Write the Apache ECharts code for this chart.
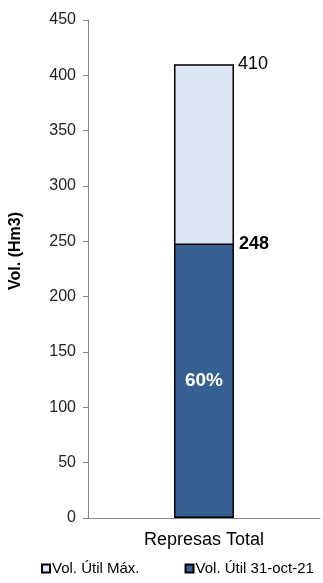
<!DOCTYPE html>
<html>
<head>
<meta charset="utf-8">
<script src="https://cdn.jsdelivr.net/npm/echarts@6/dist/echarts.min.js"></script>
<style>
html,body{margin:0;padding:0;background:#fff;}
#c{width:323px;height:583px;}
</style>
</head>
<body>
<div id="c"></div>
<script>
const categories = ['Represas Total'];
const seriesNames = ['Vol. Útil Máx.', 'Vol. Útil 31-oct-21'];
const volMax = [410];
const volActual = [248];
const pctLabels = ['60%'];
const yTicks = { min: 0, max: 450, interval: 50 };

const chart = echarts.init(document.getElementById('c'));
const font = 'Liberation Sans, Arial, sans-serif';
chart.setOption({
  animation: false,
  textStyle: { fontFamily: font },
  grid: { left: 88, right: 3, top: 20, bottom: 65, containLabel: false },
  legend: {
    data: seriesNames,
    bottom: 2,
    left: 36,
    itemWidth: 8,
    itemHeight: 8,
    itemGap: 45,
    icon: 'rect',
    textStyle: { fontSize: 15, color: '#000', fontFamily: font, padding: [0, 0, 0, -3] }
  },
  xAxis: {
    type: 'category',
    data: categories,
    axisLine: { lineStyle: { color: '#888', width: 1 } },
    axisTick: { show: false },
    axisLabel: { fontSize: 18, color: '#000', margin: 13, fontFamily: font }
  },
  yAxis: {
    type: 'value',
    min: yTicks.min, max: yTicks.max, interval: yTicks.interval,
    name: 'Vol. (Hm3)',
    nameLocation: 'middle',
    nameGap: 64,
    nameTextStyle: { fontSize: 16, fontWeight: 'bold', color: '#000', fontFamily: font, padding: [0, 0, 0, 36] },
    axisLine: { show: true, lineStyle: { color: '#888', width: 1 } },
    axisTick: { show: true, length: 5, lineStyle: { color: '#888' } },
    splitLine: { show: false },
    axisLabel: { fontSize: 16, color: '#222', margin: 12, fontFamily: font }
  },
  series: [
    {
      name: seriesNames[0],
      type: 'bar',
      data: volMax,
      barWidth: 60,
      barGap: '-100%',
      itemStyle: { color: '#DCE6F2', borderColor: '#000', borderWidth: 1.5 },
      label: {
        show: true, position: ['100%', 0], align: 'left', verticalAlign: 'middle',
        distance: 0, offset: [4, 0], fontSize: 18, color: '#000', fontFamily: font
      }
    },
    {
      name: seriesNames[1],
      type: 'bar',
      data: volActual,
      barWidth: 60,
      barGap: '-100%',
      itemStyle: { color: '#365F92', borderColor: '#000', borderWidth: 1.5 },
      label: {
        show: true, position: ['100%', 0], align: 'left', verticalAlign: 'middle',
        offset: [5, 0], fontSize: 18, fontWeight: 'bold', color: '#000', fontFamily: font
      },
      markPoint: {
        symbol: 'rect', symbolSize: 0,
        data: [{ coord: [categories[0], volActual[0] / 2], value: pctLabels[0] }],
        label: { show: true, position: 'inside', formatter: pctLabels[0], fontSize: 19, fontWeight: 'bold', color: '#fff', fontFamily: font }
      }
    }
  ]
});
</script>
</body>
</html>
